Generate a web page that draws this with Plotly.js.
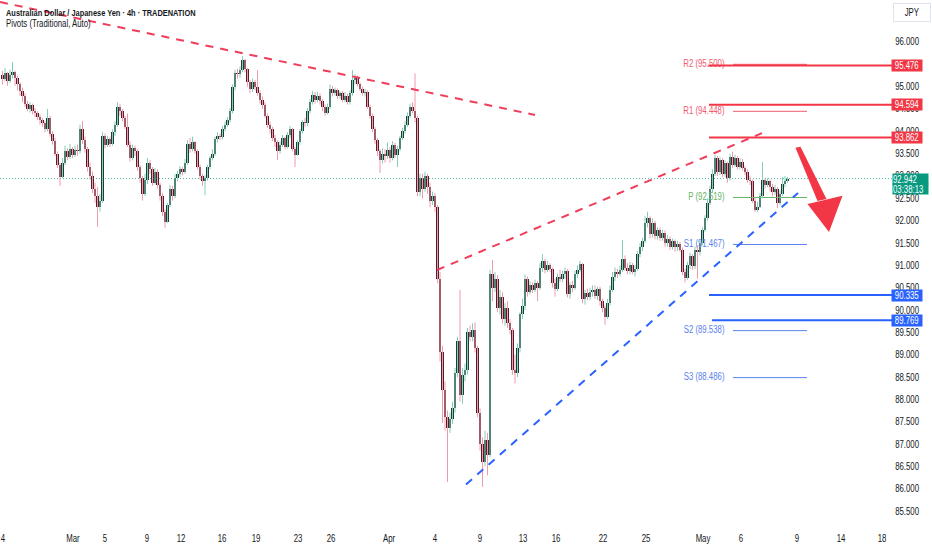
<!DOCTYPE html>
<html><head><meta charset="utf-8">
<script src="https://cdn.plot.ly/plotly-3.0.1.min.js"></script>
<style>html,body{margin:0;padding:0;background:#fff}#chart{width:932px;height:550px}</style>
</head><body><div id="chart"></div>
<script>
// ---- AUD/JPY 4h candles ----
const opens = [
95.25,95.18,95.30,95.12,95.25,95.32,95.20,95.05,94.90,94.78,
94.62,94.50,94.58,94.45,94.40,94.32,94.25,94.18,94.05,94.30,
93.95,93.78,93.50,93.25,92.98,93.30,93.55,93.42,93.60,93.48,
93.58,93.55,94.05,93.80,93.60,93.20,93.00,92.70,92.55,92.30,
92.45,93.90,93.70,93.82,93.72,93.98,94.15,94.55,94.45,94.30,
94.10,93.70,93.40,93.62,93.55,93.20,92.95,92.60,92.90,93.30,
93.15,92.85,93.10,92.80,92.55,92.20,91.98,92.35,92.70,92.55,
92.95,93.05,93.15,93.10,93.30,93.72,93.60,93.75,93.55,93.20,
93.00,92.88,92.95,93.20,93.40,93.50,93.82,93.90,93.88,94.05,
94.15,94.25,94.45,95.00,95.30,95.28,95.38,95.60,95.40,95.10,
94.95,95.10,95.00,94.85,94.70,94.60,94.35,94.15,94.05,93.85,
93.75,93.55,93.70,93.85,93.65,93.92,94.05,93.60,93.48,93.75,
94.00,94.20,94.18,94.45,94.65,94.82,94.70,94.80,94.68,94.55,
94.42,94.55,94.95,94.85,94.92,94.78,94.85,94.70,94.80,94.65,
94.85,95.15,95.20,95.05,94.95,94.85,94.88,94.55,94.35,94.05,
93.80,93.55,93.35,93.50,93.45,93.58,93.40,93.70,93.48,93.60,
93.85,94.00,94.15,94.35,94.55,94.45,94.30,92.65,92.95,92.70,
93.00,92.75,92.45,92.55,92.30,90.70,89.05,88.20,87.60,87.35,
87.55,87.80,88.60,89.30,88.10,88.55,88.65,89.50,89.40,89.55,
89.15,87.70,87.00,86.60,87.10,86.75,90.80,90.50,90.70,90.05,
90.30,89.80,90.05,89.70,89.55,88.65,88.60,89.15,89.90,90.10,
90.70,90.40,90.55,90.45,90.60,90.50,90.95,91.10,90.90,91.00,
90.92,90.60,90.48,90.75,90.70,90.80,90.88,90.35,90.55,90.50,
90.80,90.90,91.02,90.25,90.38,90.30,90.40,90.45,90.32,90.48,
90.20,90.05,89.85,90.15,90.45,90.75,90.85,90.80,90.90,91.15,
90.95,90.88,91.00,90.86,90.92,91.25,91.40,91.55,91.95,92.05,
91.70,91.95,91.65,91.78,91.62,91.72,91.50,91.60,91.42,91.55,
91.40,91.48,91.35,90.85,90.72,91.00,91.20,90.98,91.35,91.30,
91.50,91.80,92.05,92.40,92.70,93.05,93.40,93.10,93.35,93.05,
93.28,92.95,93.42,93.25,93.40,93.20,93.32,93.18,93.10,92.92,
92.88,92.45,92.25,92.30,92.55,92.90,92.80,92.88,92.75,92.65,92.72,92.40,92.60,92.82,92.88
];
const highs = [
95.35,95.42,95.33,95.38,95.55,95.36,95.25,95.10,94.98,94.85,
94.68,94.65,94.62,94.52,94.45,94.38,94.30,94.22,94.50,94.35,
94.00,93.85,93.55,93.30,93.40,93.68,93.62,93.72,93.65,93.68,
93.70,94.15,94.23,93.88,93.65,93.30,93.10,92.85,92.75,92.60,
93.98,93.95,93.90,93.88,94.05,94.22,94.65,94.62,94.50,94.35,
94.40,93.78,93.70,93.68,93.60,93.25,93.00,93.05,93.40,93.36,
93.20,93.18,93.15,92.85,92.62,92.25,92.40,92.80,92.78,93.05,
93.12,93.22,93.20,93.38,93.80,93.85,93.88,93.78,93.60,93.25,
93.05,93.02,93.25,93.45,93.60,93.88,93.98,93.95,94.12,94.22,
94.32,94.52,95.05,95.38,95.40,95.45,95.68,95.62,95.42,95.15,
95.18,95.15,95.37,94.92,94.78,94.65,94.40,94.22,94.10,93.92,
93.80,93.78,93.92,93.88,93.98,94.12,94.08,93.65,93.80,94.05,
94.25,94.30,94.52,94.72,94.90,94.88,94.88,94.85,94.72,94.60,
94.62,95.05,95.02,94.98,94.96,94.90,94.90,94.88,94.85,94.92,
95.37,95.28,95.25,95.10,95.00,94.95,94.92,94.60,94.40,94.10,
93.85,93.60,93.62,93.60,93.75,93.65,93.78,93.75,93.68,93.90,
94.08,94.22,94.42,94.62,94.65,95.30,94.35,93.05,93.05,93.10,
93.05,92.85,92.65,92.62,92.35,90.85,89.20,88.40,87.75,87.70,
87.95,88.70,89.40,90.45,88.70,88.80,89.60,89.65,89.70,89.72,
89.20,87.80,87.15,87.30,87.25,90.90,91.12,90.85,90.78,90.45,
90.40,90.15,90.20,89.80,89.60,89.00,89.25,89.95,90.25,90.80,
90.75,90.65,90.62,90.68,90.65,91.05,91.25,91.15,91.10,91.05,
90.95,90.70,90.82,90.90,90.88,90.95,90.92,90.62,90.65,90.88,
91.00,91.10,91.05,90.45,90.48,90.50,90.55,90.55,90.52,90.52,
90.25,90.10,90.25,90.55,90.85,90.95,90.92,91.00,91.57,91.22,
91.05,91.08,91.05,91.00,91.32,91.50,91.62,92.10,92.20,92.10,
92.05,92.00,91.85,91.85,91.80,91.78,91.68,91.65,91.60,91.58,
91.55,91.52,91.40,90.92,91.08,91.28,91.25,91.42,91.45,91.58,
91.85,92.12,92.50,92.78,93.15,93.47,93.45,93.42,93.40,93.35,
93.32,93.50,93.54,93.48,93.45,93.40,93.38,93.22,93.15,93.00,
92.92,92.50,92.42,92.62,93.31,92.95,92.95,92.92,92.82,92.80,92.75,92.68,92.98,93.00,92.98
];
const lows = [
95.05,95.12,95.02,95.08,95.18,95.02,94.92,94.80,94.65,94.55,
94.45,94.42,94.38,94.32,94.25,94.15,94.10,93.98,94.00,93.88,
93.70,93.45,93.18,92.78,92.95,93.25,93.35,93.38,93.40,93.42,
93.45,93.50,93.72,93.52,93.10,92.92,92.62,92.40,91.86,92.20,
92.40,93.62,93.65,93.65,93.68,93.90,94.10,94.35,94.22,94.05,
93.65,93.32,93.35,93.45,93.12,92.85,92.45,92.55,92.82,93.05,
92.78,92.80,92.72,92.45,92.10,91.84,91.95,92.30,92.45,92.50,
92.88,92.98,93.02,93.05,93.25,93.52,93.55,93.50,93.15,92.92,
92.78,92.57,92.90,93.15,93.35,93.45,93.75,93.80,93.82,94.00,
94.10,94.20,94.40,94.92,95.18,95.20,95.32,95.32,95.00,94.85,
94.88,94.92,94.80,94.62,94.50,94.30,94.08,93.95,93.78,93.65,
93.36,93.50,93.65,93.60,93.62,93.85,93.55,93.20,93.45,93.70,
93.95,94.10,94.12,94.40,94.60,94.62,94.65,94.60,94.45,94.35,
94.38,94.50,94.78,94.80,94.72,94.72,94.65,94.65,94.60,94.60,
94.80,95.05,95.00,94.90,94.80,94.78,94.50,94.28,93.98,93.72,
93.45,93.07,93.28,93.30,93.38,93.30,93.35,93.40,93.20,93.55,
93.80,93.95,94.10,94.30,94.40,94.20,92.55,92.55,92.50,92.65,
92.60,92.30,92.35,92.20,90.60,88.85,87.47,87.30,86.15,87.25,
87.45,87.70,88.50,87.95,87.90,88.40,88.55,89.30,89.30,89.05,
87.60,86.85,86.04,86.50,86.30,86.70,90.20,90.40,89.95,89.90,
89.70,89.65,89.60,89.45,88.55,88.35,88.50,89.05,89.80,90.00,
90.30,90.35,90.38,90.40,90.20,90.45,90.85,90.82,90.85,90.85,
90.50,90.30,90.42,90.62,90.62,90.70,90.28,90.25,90.40,90.45,
90.72,90.85,90.15,90.12,90.22,90.22,90.30,90.25,90.22,90.10,
89.95,89.67,89.80,90.10,90.40,90.65,90.72,90.75,90.85,90.88,
90.80,90.80,90.80,90.75,90.88,91.18,91.32,91.50,91.85,91.60,
91.62,91.58,91.58,91.55,91.55,91.42,91.42,91.35,91.35,91.30,
91.32,91.30,90.78,90.62,90.68,90.92,90.90,90.92,90.70,91.22,
91.45,91.75,92.00,92.35,92.62,93.00,93.00,93.02,92.98,92.98,
92.85,92.90,93.18,93.20,93.15,93.15,93.12,93.02,92.85,92.80,
92.40,92.20,92.20,92.28,92.50,92.72,92.75,92.65,92.55,92.58,92.28,92.35,92.55,92.75,92.85
];
const closes = [
95.18,95.30,95.12,95.25,95.32,95.20,95.05,94.90,94.78,94.62,
94.50,94.58,94.45,94.40,94.32,94.25,94.18,94.05,94.30,93.95,
93.78,93.50,93.25,92.98,93.30,93.55,93.42,93.60,93.48,93.58,
93.55,94.05,93.80,93.60,93.20,93.00,92.70,92.55,92.30,92.45,
93.90,93.70,93.82,93.72,93.98,94.15,94.55,94.45,94.30,94.10,
93.70,93.40,93.62,93.55,93.20,92.95,92.60,92.90,93.30,93.15,
92.85,93.10,92.80,92.55,92.20,91.98,92.35,92.70,92.55,92.95,
93.05,93.15,93.10,93.30,93.72,93.60,93.75,93.55,93.20,93.00,
92.88,92.95,93.20,93.40,93.50,93.82,93.90,93.88,94.05,94.15,
94.25,94.45,95.00,95.30,95.28,95.38,95.60,95.40,95.10,94.95,
95.10,95.00,94.85,94.70,94.60,94.35,94.15,94.05,93.85,93.75,
93.55,93.70,93.85,93.65,93.92,94.05,93.60,93.48,93.75,94.00,
94.20,94.18,94.45,94.65,94.82,94.70,94.80,94.68,94.55,94.42,
94.55,94.95,94.85,94.92,94.78,94.85,94.70,94.80,94.65,94.85,
95.15,95.20,95.05,94.95,94.85,94.88,94.55,94.35,94.05,93.80,
93.55,93.35,93.50,93.45,93.58,93.40,93.70,93.48,93.60,93.85,
94.00,94.15,94.35,94.55,94.45,94.30,92.65,92.95,92.70,93.00,
92.75,92.45,92.55,92.30,90.70,89.05,88.20,87.60,87.35,87.55,
87.80,88.60,89.30,88.10,88.55,88.65,89.50,89.40,89.55,89.15,
87.70,87.00,86.60,87.10,86.75,90.80,90.50,90.70,90.05,90.30,
89.80,90.05,89.70,89.55,88.65,88.60,89.15,89.90,90.10,90.70,
90.40,90.55,90.45,90.60,90.50,90.95,91.10,90.90,91.00,90.92,
90.60,90.48,90.75,90.70,90.80,90.88,90.35,90.55,90.50,90.80,
90.90,91.02,90.25,90.38,90.30,90.40,90.45,90.32,90.48,90.20,
90.05,89.85,90.15,90.45,90.75,90.85,90.80,90.90,91.15,90.95,
90.88,91.00,90.86,90.92,91.25,91.40,91.55,91.95,92.05,91.70,
91.95,91.65,91.78,91.62,91.72,91.50,91.60,91.42,91.55,91.40,
91.48,91.35,90.85,90.72,91.00,91.20,90.98,91.35,91.30,91.50,
91.80,92.05,92.40,92.70,93.05,93.40,93.10,93.35,93.05,93.28,
92.95,93.42,93.25,93.40,93.20,93.32,93.18,93.10,92.92,92.88,
92.45,92.25,92.30,92.55,92.90,92.80,92.88,92.75,92.65,92.72,92.40,92.60,92.82,92.88,92.94
];

// ---- time axis labels (candle index positions) ----
const timeTickPos  = [1.2, 29.2, 42, 58.8, 72.4, 88.8, 102.4, 119.2, 132.4, 155.6, 174, 192, 209.2, 222.4, 241.2, 258.4, 281.2, 296.4, 318.8, 336.4, 352.8];
const timeTickText = ['4','Mar','5','9','12','16','19','23','26','Apr','4','9','13','16','22','25','May','6','9','14','18'];
const priceTicks = [85.5,86,86.5,87,87.5,88,88.5,89,89.5,90,90.5,91,91.5,92,92.5,93,93.5,94,94.5,95,95.5,96];

// ---- pivots (Traditional, Auto) ----
const pivotNames  = ['R2','R1','P','S1','S2','S3'];
const pivotValues = [95.500, 94.448, 92.519, 91.467, 89.538, 88.486];
const pivotColors = ['#ef5a6f','#ef5a6f','#66b266','#5a82f0','#5a82f0','#5a82f0'];
const pivotSpan   = [293.2, 322.8];
const pivotLabelX = 289.8;

// ---- drawn horizontal levels ----
const levelValues = [95.476, 94.594, 93.862, 90.335, 89.769];
const levelColors = ['#f23645','#f23645','#f23645','#2962ff','#2962ff'];
const levelStart  = [283.3, 283.6, 283.6, 283.6, 284.8];
const levelEnd    = 356.8;

// ---- trend lines ----
const resistX = [0, 214],         resistY = [96.895, 94.366];
const wedgeTopX = [174.8, 304.8], wedgeTopY = [90.896, 93.960];
const supportX = [186.4, 319.2],  supportY = [86.094, 92.620];

// ---- last price ----
const lastPrice = 92.942;
const countdown = '03:38:13';

// ---- arrow drawing ----
const arrowShaftX = [318.2, 320.2, 330.6, 327.0];
const arrowShaftY = [93.630, 93.652, 92.485, 92.441];
const arrowHeadX  = [323.0, 337.0, 331.6];
const arrowHeadY  = [92.373, 92.560, 91.747];

const FONT = '"Liberation Sans", Arial, sans-serif';
const SQUEEZE = 0.78;
const UP_BODY = '#1d3f37', DOWN_BODY = '#521f2a', UP_WICK = '#84cdb9', DOWN_WICK = '#f19aa9';
const TXT = '#131722';

const N = closes.length;
const idx = closes.map((_, k) => k + 1);
const isUp = closes.map((c, k) => c >= opens[k]);

function wickTrace(up) {
  const x = [], y = [];
  for (let k = 0; k < N; k++) {
    if (isUp[k] !== up) continue;
    x.push(idx[k], idx[k], null);
    y.push(lows[k], highs[k], null);
  }
  return {type:'scatter', mode:'lines', x, y, line:{color: up ? UP_WICK : DOWN_WICK, width:1}, hoverinfo:'skip', showlegend:false};
}

const traces = [];

// pivot lines and labels (under candles)
pivotValues.forEach((v, k) => {
  traces.push({type:'scatter', mode:'lines', x: pivotSpan, y:[v, v], line:{color: pivotColors[k], width:1}, hoverinfo:'skip', showlegend:false});
});
traces.push({type:'scatter', mode:'text', x: pivotValues.map(() => pivotLabelX), y: pivotValues,
  text: pivotValues.map((v, k) => pivotNames[k] + ' (' + v.toFixed(3) + ')'),
  textposition:'middle left', textfont:{family:FONT, size:10, color: pivotColors}, hoverinfo:'skip', showlegend:false});

// last price dotted line
traces.push({type:'scatter', mode:'lines', x:[0, levelEnd], y:[lastPrice, lastPrice], line:{color:'rgba(8,153,129,0.75)', width:1, dash:'1px,2px'}, hoverinfo:'skip', showlegend:false});

// candles
traces.push(wickTrace(true));
traces.push(wickTrace(false));
traces.push({type:'bar', x: idx,
  base: closes.map((c, k) => Math.min(c, opens[k])),
  y: closes.map((c, k) => Math.max(Math.abs(c - opens[k]), 0.015)),
  width: 0.9,
  marker:{color: isUp.map(u => u ? UP_BODY : DOWN_BODY), line:{width:0}},
  hoverinfo:'skip', showlegend:false});

// trend lines
traces.push({type:'scatter', mode:'lines', x: resistX, y: resistY, line:{color:'#ef3d5a', width:2, dash:'8px,7px'}, hoverinfo:'skip', showlegend:false});
traces.push({type:'scatter', mode:'lines', x: wedgeTopX, y: wedgeTopY, line:{color:'#ef3d5a', width:2, dash:'8px,7px'}, hoverinfo:'skip', showlegend:false});
traces.push({type:'scatter', mode:'lines', x: supportX, y: supportY, line:{color:'#2962ff', width:2, dash:'8px,7px'}, hoverinfo:'skip', showlegend:false});

// horizontal levels
levelValues.forEach((v, k) => {
  traces.push({type:'scatter', mode:'lines', x:[levelStart[k], levelEnd], y:[v, v], line:{color: levelColors[k], width:2}, hoverinfo:'skip', showlegend:false});
});

// arrow polygons
function poly(xs, ys) {
  return 'M ' + xs.map((x, k) => x + ',' + ys[k]).join(' L ') + ' Z';
}
const shapes = [
  {type:'path', xref:'x', yref:'y', path: poly(arrowShaftX, arrowShaftY), fillcolor:'#f23645', line:{width:0}, layer:'above'},
  {type:'path', xref:'x', yref:'y', path: poly(arrowHeadX, arrowHeadY), fillcolor:'#f23645', line:{width:0}, layer:'above'}
];

const PLOT_H = 527;
const annotations = [
  {xref:'paper', yref:'paper', x: 4/932, y: 1 - 12/PLOT_H, xanchor:'left', yanchor:'middle', align:'left', showarrow:false,
   text:'<b>Australian Dollar / Japanese Yen · 4h · TRADENATION</b>', font:{family:FONT, size:9.5, color:TXT}},
  {xref:'paper', yref:'paper', x: 4/932, y: 1 - 24/PLOT_H, xanchor:'left', yanchor:'middle', align:'left', showarrow:false,
   text:'Pivots (Traditional, Auto)', font:{family:FONT, size:10, color:TXT}},
  {xref:'paper', yref:'paper', x: 912/932, y: 1 - 13/PLOT_H, xanchor:'center', yanchor:'middle', showarrow:false,
   text:'JPY', font:{family:FONT, size:10, color:TXT}, bgcolor:'#ffffff', bordercolor:'#e0e3eb', borderwidth:1, borderpad:3, width:30}
];
levelValues.forEach((v, k) => {
  annotations.push({xref:'paper', yref:'y', x: 907/932, y: v, xanchor:'center', yanchor:'middle', showarrow:false,
    text: v.toFixed(3), font:{family:FONT, size:10, color:'#ffffff'}, bgcolor: levelColors[k], borderpad:0, width:30, height:11});
});
annotations.push({xref:'paper', yref:'y', x: 910.5/932, y: lastPrice, xanchor:'center', yanchor:'middle', showarrow:false,
  text: lastPrice.toFixed(3), align:'left', font:{family:FONT, size:10, color:'#ffffff'}, bgcolor:'#089981', borderpad:0, width:35, height:10});
annotations.push({xref:'paper', yref:'y', x: 910.5/932, y: lastPrice, yshift:-10, xanchor:'center', yanchor:'middle', showarrow:false,
  text: countdown, align:'left', font:{family:FONT, size:10, color:'#ffffff'}, bgcolor:'#089981', borderpad:0, width:35, height:10});

const layout = {
  width:932, height:550,
  margin:{l:0, r:0, t:0, b:23},
  paper_bgcolor:'#ffffff', plot_bgcolor:'#ffffff',
  showlegend:false, hovermode:false, bargap:0,
  xaxis:{range:[0, 372.8], domain:[0,1], tickmode:'array', tickvals: timeTickPos, ticktext: timeTickText,
    showgrid:false, zeroline:false, showline:false, ticks:'', ticklabelstandoff:4,
    tickfont:{family:FONT, size:10, color:TXT}, fixedrange:true},
  yaxis:{range:[85.142, 96.940], side:'right', tickmode:'array', tickvals: priceTicks, tickformat:'.3f',
    ticklabelposition:'inside', ticklabelstandoff:10, showgrid:false, zeroline:false, showline:false, ticks:'',
    tickfont:{family:FONT, size:10, color:TXT}, fixedrange:true},
  shapes, annotations
};

Plotly.newPlot('chart', traces, layout, {displayModeBar:false, staticPlot:true}).then(gd => {
  // the reference uses a narrow UI face: condense every label horizontally
  gd.querySelectorAll('svg text').forEach(t => {
    const L = t.getComputedTextLength();
    if (L > 0) {
      t.setAttribute('textLength', (L * SQUEEZE).toFixed(2));
      t.setAttribute('lengthAdjust', 'spacingAndGlyphs');
    }
  });
});
</script></body></html>
